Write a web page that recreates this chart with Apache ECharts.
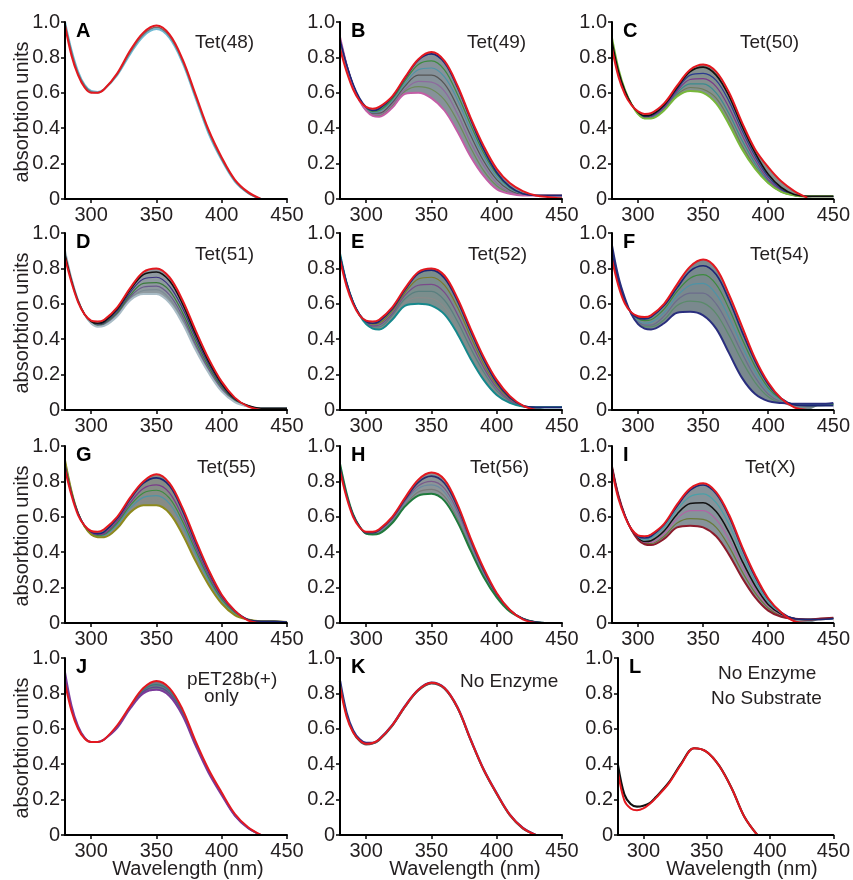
<!DOCTYPE html>
<html>
<head>
<meta charset="utf-8">
<script src="https://cdn.jsdelivr.net/npm/echarts@6/dist/echarts.min.js"></script>
<style>
  html, body { margin: 0; background: #fff; }
  #container { width: 853px; height: 880px; }
</style>
</head>
<body>
<div id="container"></div>
<script>
// wavelengths (nm) shared by every spectrum
const wl = [280, 285, 290, 295, 300, 305, 310, 320, 330, 340, 350, 360, 370, 380, 390, 400, 410, 420, 430, 440, 450];
const xTicks = [300, 350, 400, 450];
const yTicks = [0, 0.2, 0.4, 0.6, 0.8, 1.0];

// A  Tet(48)
const aBlue = [1.00, 0.84, 0.72, 0.645, 0.61, 0.605, 0.62, 0.70, 0.82, 0.92, 0.96, 0.91, 0.77, 0.57, 0.37, 0.22, 0.10, 0.035, 0, null, null];
const aGray = [0.99, 0.83, 0.71, 0.64, 0.605, 0.60, 0.62, 0.705, 0.83, 0.93, 0.97, 0.92, 0.78, 0.58, 0.38, 0.225, 0.105, 0.035, 0, null, null];
const aRed = [0.98, 0.81, 0.70, 0.63, 0.60, 0.60, 0.62, 0.71, 0.84, 0.94, 0.98, 0.93, 0.79, 0.59, 0.39, 0.235, 0.11, 0.04, 0, null, null];

// B  Tet(49)
const bRed = [0.85, 0.72, 0.62, 0.555, 0.52, 0.51, 0.52, 0.58, 0.69, 0.79, 0.83, 0.78, 0.64, 0.46, 0.30, 0.17, 0.09, 0.045, 0.02, 0.01, 0.003];
const b1 = [0.90, 0.76, 0.65, 0.57, 0.52, 0.50, 0.51, 0.575, 0.685, 0.785, 0.82, 0.77, 0.63, 0.45, 0.28, 0.15, 0.07, 0.03, 0.02, 0.02, 0.02];
const b2 = [0.90, 0.76, 0.645, 0.565, 0.515, 0.495, 0.50, 0.565, 0.67, 0.76, 0.78, 0.73, 0.59, 0.42, 0.26, 0.14, 0.065, 0.03, 0.02, 0.02, 0.02];
const b3 = [0.905, 0.76, 0.645, 0.56, 0.51, 0.49, 0.495, 0.555, 0.655, 0.73, 0.74, 0.69, 0.56, 0.39, 0.24, 0.125, 0.06, 0.03, 0.02, 0.02, 0.02];
const b4 = [0.905, 0.76, 0.645, 0.56, 0.505, 0.485, 0.485, 0.545, 0.64, 0.70, 0.70, 0.65, 0.52, 0.36, 0.215, 0.11, 0.05, 0.025, 0.02, 0.02, 0.02];
const b5 = [0.91, 0.76, 0.64, 0.555, 0.505, 0.48, 0.48, 0.535, 0.62, 0.665, 0.66, 0.61, 0.48, 0.32, 0.19, 0.09, 0.04, 0.025, 0.02, 0.02, 0.02];
const b6 = [0.91, 0.76, 0.64, 0.555, 0.50, 0.475, 0.47, 0.525, 0.61, 0.635, 0.62, 0.56, 0.44, 0.29, 0.16, 0.075, 0.035, 0.02, 0.02, 0.02, 0.02];
const bPink = [0.915, 0.76, 0.64, 0.555, 0.50, 0.47, 0.465, 0.515, 0.595, 0.60, 0.57, 0.50, 0.38, 0.24, 0.13, 0.055, 0.03, 0.02, 0.02, 0.02, 0.02];

// C  Tet(50)
const cRed = [0.85, 0.69, 0.59, 0.53, 0.495, 0.48, 0.485, 0.54, 0.64, 0.73, 0.76, 0.72, 0.60, 0.43, 0.28, 0.18, 0.10, 0.045, 0.008, null, null];
const cBlack = [0.89, 0.72, 0.61, 0.535, 0.49, 0.47, 0.475, 0.53, 0.63, 0.72, 0.745, 0.70, 0.58, 0.41, 0.26, 0.14, 0.065, 0.025, 0.015, 0.015, 0.015];
const c2 = [0.89, 0.72, 0.61, 0.535, 0.49, 0.465, 0.47, 0.525, 0.62, 0.70, 0.71, 0.67, 0.55, 0.385, 0.24, 0.125, 0.055, 0.02, 0.015, 0.015, 0.015];
const c3 = [0.895, 0.725, 0.61, 0.535, 0.485, 0.46, 0.465, 0.515, 0.61, 0.675, 0.68, 0.635, 0.515, 0.36, 0.22, 0.11, 0.05, 0.02, 0.015, 0.015, 0.015];
const c4 = [0.90, 0.725, 0.61, 0.535, 0.485, 0.455, 0.46, 0.51, 0.60, 0.65, 0.65, 0.60, 0.48, 0.33, 0.20, 0.10, 0.045, 0.02, 0.015, 0.015, 0.015];
const c5 = [0.90, 0.73, 0.61, 0.535, 0.48, 0.455, 0.455, 0.505, 0.59, 0.63, 0.62, 0.57, 0.45, 0.30, 0.18, 0.09, 0.04, 0.02, 0.015, 0.015, 0.015];
const cGreen = [0.91, 0.735, 0.615, 0.535, 0.48, 0.455, 0.455, 0.50, 0.58, 0.61, 0.60, 0.54, 0.42, 0.28, 0.17, 0.09, 0.04, 0.02, 0.015, 0.015, 0.015];

// D  Tet(51)
const dRed = [0.86, 0.72, 0.61, 0.54, 0.505, 0.50, 0.51, 0.58, 0.69, 0.78, 0.80, 0.75, 0.62, 0.45, 0.29, 0.16, 0.07, 0.02, 0, null, null];
const dBlack = [0.88, 0.73, 0.615, 0.54, 0.50, 0.49, 0.50, 0.57, 0.68, 0.765, 0.78, 0.73, 0.60, 0.43, 0.275, 0.15, 0.065, 0.025, 0.01, 0.01, 0.01];
const d2 = [0.885, 0.735, 0.62, 0.54, 0.50, 0.485, 0.495, 0.56, 0.665, 0.74, 0.75, 0.70, 0.575, 0.41, 0.26, 0.14, 0.06, 0.025, 0.01, 0.01, 0.01];
const d3 = [0.89, 0.735, 0.62, 0.54, 0.495, 0.48, 0.49, 0.55, 0.65, 0.715, 0.72, 0.675, 0.55, 0.39, 0.245, 0.13, 0.055, 0.02, 0.01, 0.01, 0.01];
const d4 = [0.89, 0.74, 0.62, 0.54, 0.495, 0.475, 0.485, 0.545, 0.64, 0.695, 0.70, 0.65, 0.53, 0.37, 0.23, 0.12, 0.05, 0.02, 0.01, 0.01, 0.01];
const d5 = [0.895, 0.74, 0.62, 0.54, 0.49, 0.475, 0.48, 0.54, 0.63, 0.675, 0.68, 0.63, 0.51, 0.355, 0.22, 0.115, 0.05, 0.02, 0.01, 0.01, 0.01];
const dGray = [0.90, 0.74, 0.62, 0.54, 0.49, 0.47, 0.475, 0.53, 0.62, 0.655, 0.655, 0.605, 0.49, 0.34, 0.21, 0.105, 0.045, 0.02, 0.01, 0.01, 0.01];

// E  Tet(52)
const eRed = [0.85, 0.70, 0.60, 0.535, 0.505, 0.50, 0.51, 0.58, 0.69, 0.78, 0.80, 0.76, 0.63, 0.46, 0.30, 0.17, 0.08, 0.025, 0, null, null];
const e1 = [0.87, 0.72, 0.61, 0.54, 0.50, 0.49, 0.50, 0.57, 0.68, 0.77, 0.79, 0.745, 0.615, 0.445, 0.285, 0.155, 0.07, 0.025, 0.015, 0.015, 0.015];
const e2 = [0.875, 0.72, 0.61, 0.54, 0.50, 0.485, 0.49, 0.56, 0.665, 0.74, 0.75, 0.705, 0.58, 0.415, 0.26, 0.14, 0.065, 0.025, 0.015, 0.015, 0.015];
const e3 = [0.875, 0.72, 0.61, 0.535, 0.495, 0.475, 0.48, 0.545, 0.65, 0.705, 0.71, 0.665, 0.54, 0.385, 0.24, 0.125, 0.055, 0.02, 0.015, 0.015, 0.015];
const e4 = [0.88, 0.72, 0.61, 0.535, 0.49, 0.47, 0.47, 0.535, 0.63, 0.67, 0.67, 0.62, 0.50, 0.35, 0.215, 0.11, 0.05, 0.02, 0.015, 0.015, 0.015];
const e5 = [0.88, 0.72, 0.61, 0.535, 0.49, 0.465, 0.465, 0.525, 0.61, 0.635, 0.63, 0.58, 0.46, 0.32, 0.19, 0.095, 0.045, 0.02, 0.015, 0.015, 0.015];
const eTeal = [0.885, 0.72, 0.61, 0.535, 0.485, 0.46, 0.455, 0.51, 0.59, 0.60, 0.59, 0.54, 0.43, 0.29, 0.17, 0.085, 0.04, 0.02, 0.015, 0.015, 0.015];

// F  Tet(54)
const fRed = [0.85, 0.70, 0.60, 0.55, 0.53, 0.525, 0.535, 0.60, 0.71, 0.81, 0.85, 0.80, 0.65, 0.47, 0.29, 0.155, 0.065, 0.015, 0, null, null];
const f1 = [0.88, 0.72, 0.61, 0.55, 0.52, 0.515, 0.525, 0.59, 0.69, 0.785, 0.815, 0.765, 0.62, 0.44, 0.275, 0.145, 0.065, 0.03, 0.025, 0.025, 0.025];
const f2 = [0.89, 0.73, 0.615, 0.55, 0.515, 0.505, 0.51, 0.57, 0.67, 0.745, 0.765, 0.71, 0.57, 0.40, 0.245, 0.125, 0.06, 0.03, 0.025, 0.025, 0.03];
const f3 = [0.90, 0.735, 0.62, 0.545, 0.505, 0.49, 0.495, 0.55, 0.645, 0.705, 0.715, 0.655, 0.52, 0.36, 0.215, 0.11, 0.055, 0.03, 0.03, 0.03, 0.03];
const f4 = [0.905, 0.74, 0.62, 0.545, 0.50, 0.48, 0.48, 0.53, 0.62, 0.66, 0.66, 0.60, 0.47, 0.32, 0.185, 0.09, 0.045, 0.035, 0.03, 0.03, 0.035];
const f5 = [0.915, 0.745, 0.625, 0.54, 0.49, 0.47, 0.47, 0.51, 0.59, 0.615, 0.605, 0.545, 0.42, 0.275, 0.155, 0.075, 0.04, 0.035, 0.03, 0.035, 0.035];
const fNavy = [0.93, 0.75, 0.63, 0.54, 0.485, 0.46, 0.455, 0.49, 0.55, 0.555, 0.535, 0.46, 0.32, 0.18, 0.09, 0.05, 0.04, 0.035, 0.035, 0.035, 0.04];

// G  Tet(55)
const gRed = [0.87, 0.72, 0.61, 0.55, 0.52, 0.515, 0.53, 0.60, 0.71, 0.80, 0.84, 0.79, 0.65, 0.47, 0.30, 0.16, 0.07, 0.015, 0, null, null];
const g1 = [0.89, 0.73, 0.62, 0.55, 0.515, 0.505, 0.515, 0.59, 0.70, 0.79, 0.82, 0.775, 0.635, 0.455, 0.29, 0.155, 0.07, 0.02, 0.01, 0.01, 0.005];
const g2 = [0.90, 0.735, 0.62, 0.55, 0.51, 0.50, 0.505, 0.575, 0.68, 0.76, 0.78, 0.735, 0.60, 0.43, 0.27, 0.145, 0.065, 0.02, 0.01, 0.01, 0.005];
const g3 = [0.905, 0.74, 0.62, 0.545, 0.505, 0.495, 0.50, 0.565, 0.665, 0.735, 0.75, 0.705, 0.575, 0.41, 0.255, 0.135, 0.06, 0.02, 0.01, 0.01, 0.005];
const g4 = [0.91, 0.74, 0.62, 0.545, 0.50, 0.49, 0.495, 0.555, 0.65, 0.71, 0.72, 0.675, 0.55, 0.39, 0.24, 0.125, 0.055, 0.02, 0.01, 0.01, 0.005];
const g5 = [0.915, 0.745, 0.62, 0.545, 0.50, 0.485, 0.49, 0.545, 0.64, 0.69, 0.695, 0.65, 0.525, 0.37, 0.23, 0.12, 0.05, 0.02, 0.01, 0.01, 0.005];
const gOlive = [0.92, 0.745, 0.62, 0.545, 0.50, 0.485, 0.485, 0.535, 0.625, 0.665, 0.665, 0.62, 0.50, 0.35, 0.215, 0.11, 0.045, 0.02, 0.01, 0.01, 0.005];

// H  Tet(56)
const hRed = [0.86, 0.71, 0.60, 0.54, 0.515, 0.515, 0.53, 0.60, 0.71, 0.81, 0.85, 0.81, 0.67, 0.48, 0.31, 0.17, 0.075, 0.02, 0, null, null];
const h1 = [0.88, 0.72, 0.61, 0.545, 0.51, 0.51, 0.525, 0.595, 0.70, 0.795, 0.83, 0.79, 0.655, 0.47, 0.30, 0.165, 0.075, 0.025, 0.005, 0, null];
const h2 = [0.885, 0.725, 0.61, 0.545, 0.51, 0.505, 0.52, 0.585, 0.69, 0.775, 0.80, 0.76, 0.63, 0.455, 0.29, 0.16, 0.075, 0.025, 0.005, 0, null];
const h3 = [0.89, 0.73, 0.615, 0.545, 0.505, 0.505, 0.515, 0.58, 0.68, 0.76, 0.78, 0.74, 0.61, 0.44, 0.28, 0.155, 0.07, 0.025, 0.005, 0, null];
const h4 = [0.895, 0.73, 0.615, 0.545, 0.505, 0.50, 0.51, 0.575, 0.67, 0.74, 0.755, 0.715, 0.59, 0.425, 0.27, 0.15, 0.07, 0.025, 0.005, 0, null];
const hGreen = [0.90, 0.735, 0.615, 0.545, 0.505, 0.50, 0.505, 0.565, 0.66, 0.72, 0.73, 0.69, 0.57, 0.41, 0.26, 0.145, 0.065, 0.025, 0.005, 0, null];

// I  Tet(X)
const iRed = [0.86, 0.70, 0.60, 0.53, 0.495, 0.49, 0.50, 0.56, 0.67, 0.76, 0.79, 0.74, 0.61, 0.43, 0.27, 0.14, 0.06, 0.01, 0, null, null];
const i1 = [0.87, 0.71, 0.605, 0.53, 0.49, 0.48, 0.49, 0.555, 0.66, 0.75, 0.78, 0.73, 0.60, 0.42, 0.26, 0.135, 0.06, 0.025, 0.02, 0.02, 0.025];
const i2 = [0.875, 0.71, 0.605, 0.53, 0.485, 0.47, 0.48, 0.54, 0.64, 0.715, 0.73, 0.68, 0.555, 0.385, 0.235, 0.12, 0.055, 0.025, 0.02, 0.02, 0.025];
const i3 = [0.88, 0.715, 0.605, 0.525, 0.48, 0.46, 0.465, 0.52, 0.615, 0.675, 0.68, 0.63, 0.51, 0.35, 0.21, 0.105, 0.05, 0.025, 0.02, 0.02, 0.025];
const i4 = [0.88, 0.715, 0.605, 0.525, 0.475, 0.455, 0.455, 0.505, 0.59, 0.635, 0.635, 0.585, 0.47, 0.32, 0.19, 0.095, 0.045, 0.025, 0.02, 0.02, 0.025];
const i5 = [0.885, 0.72, 0.605, 0.525, 0.475, 0.45, 0.45, 0.49, 0.565, 0.59, 0.585, 0.54, 0.43, 0.29, 0.17, 0.085, 0.04, 0.025, 0.02, 0.025, 0.03];
const iDark = [0.885, 0.72, 0.605, 0.525, 0.47, 0.445, 0.44, 0.475, 0.54, 0.55, 0.54, 0.49, 0.385, 0.255, 0.145, 0.07, 0.035, 0.025, 0.02, 0.025, 0.03];

// J  pET28b(+) only
const jRed = [0.86, 0.70, 0.60, 0.545, 0.525, 0.525, 0.54, 0.62, 0.73, 0.83, 0.87, 0.83, 0.71, 0.53, 0.37, 0.24, 0.12, 0.045, 0, null, null];
const j1 = [0.88, 0.71, 0.605, 0.545, 0.525, 0.525, 0.54, 0.615, 0.725, 0.82, 0.85, 0.815, 0.70, 0.52, 0.36, 0.235, 0.115, 0.04, 0, null, null];
const j2 = [0.90, 0.72, 0.61, 0.55, 0.525, 0.525, 0.54, 0.61, 0.72, 0.81, 0.835, 0.80, 0.69, 0.515, 0.355, 0.23, 0.11, 0.04, 0, null, null];
const jPurple = [0.92, 0.73, 0.615, 0.55, 0.525, 0.525, 0.54, 0.605, 0.715, 0.80, 0.82, 0.785, 0.675, 0.505, 0.35, 0.225, 0.11, 0.04, 0, null, null];

// K  No Enzyme
const kNavy = [0.87, 0.69, 0.59, 0.54, 0.52, 0.52, 0.54, 0.62, 0.73, 0.82, 0.86, 0.83, 0.72, 0.54, 0.37, 0.235, 0.115, 0.04, 0, null, null];
const kGray = [0.86, 0.68, 0.58, 0.53, 0.51, 0.515, 0.535, 0.615, 0.725, 0.815, 0.855, 0.825, 0.715, 0.535, 0.365, 0.23, 0.11, 0.035, 0, null, null];
const kRed = [0.84, 0.67, 0.58, 0.535, 0.515, 0.52, 0.54, 0.62, 0.73, 0.82, 0.86, 0.83, 0.72, 0.54, 0.37, 0.235, 0.115, 0.04, 0, null, null];

// L  No Enzyme, No Substrate
const lBlack = [0.395, 0.23, 0.175, 0.16, 0.165, 0.18, 0.215, 0.295, 0.405, 0.49, 0.47, 0.39, 0.26, 0.10, 0, null, null, null, null, null, null];
const lRed = [0.355, 0.195, 0.15, 0.14, 0.15, 0.175, 0.21, 0.29, 0.40, 0.49, 0.47, 0.39, 0.26, 0.10, 0, null, null, null, null, null, null];

const RED = '#e3181f';
const FONT = '"Liberation Sans", Arial, sans-serif';
const TXT = '#231f20';

const colLeft = [65, 340, 612];
const rowTop = [22, 233, 446, 658];
const W = 222, H = 177;

const panels = [
  { letter: 'A', col: 0, row: 0, band: null, texts: [['Tet(48)', 130, 11]],
    lines: [[aBlue, '#6db9d3', 2], [aGray, '#6f6f6f', 1.5], [aRed, RED, 2]] },
  { letter: 'B', col: 1, row: 0, band: '#86929a', texts: [['Tet(49)', 127, 11]],
    lines: [[b6, '#6c8a5a', 1.2], [b5, '#8e6a9e', 1.2], [b4, '#555555', 1.2], [b3, '#4e93a6', 1.2], [b2, '#3d8a3f', 1.2], [bPink, '#c25ea6', 2], [b1, '#1c2675', 1.6], [bRed, RED, 2]] },
  { letter: 'C', col: 2, row: 0, band: '#84918f', texts: [['Tet(50)', 128, 11]],
    lines: [[c5, '#6d7b5a', 1.2], [c4, '#3b8b8f', 1.2], [c3, '#7a3a8a', 1.2], [c2, '#2b3a8f', 1.2], [cGreen, '#78b83a', 2], [cBlack, '#111111', 1.6], [cRed, RED, 2]] },
  { letter: 'D', col: 0, row: 1, band: '#8f9aa0', texts: [['Tet(51)', 130, 12]],
    lines: [[d5, '#7d8d95', 1.2], [d4, '#6a5a8a', 1.2], [d3, '#3b7a3b', 1.2], [d2, '#3a2f7f', 1.2], [dGray, '#a9bcc6', 2], [dBlack, '#111111', 1.6], [dRed, RED, 2]] },
  { letter: 'E', col: 1, row: 1, band: '#7b8e8d', texts: [['Tet(52)', 128, 12]],
    lines: [[e5, '#8a8a8a', 1.2], [e4, '#5a7f7f', 1.2], [e3, '#7a4a8a', 1.2], [e2, '#7b7a2a', 1.2], [eTeal, '#16888c', 2], [e1, '#1c2675', 1.6], [eRed, RED, 2]] },
  { letter: 'F', col: 2, row: 1, band: '#7a898e', texts: [['Tet(54)', 138, 12]],
    lines: [[f5, '#5a8a6a', 1.2], [f4, '#6c6c8c', 1.2], [f3, '#4e93a6', 1.2], [f2, '#3d8a3f', 1.2], [fNavy, '#2a2e7e', 2], [f1, '#1c2675', 1.6], [fRed, RED, 2]] },
  { letter: 'G', col: 0, row: 2, band: '#868c86', texts: [['Tet(55)', 132, 12]],
    lines: [[g5, '#8a8a8a', 1.2], [g4, '#4e93a6', 1.2], [g3, '#3d8a3f', 1.2], [g2, '#7a3a8a', 1.2], [gOlive, '#8e8a1c', 2], [g1, '#1c2675', 1.6], [gRed, RED, 2]] },
  { letter: 'H', col: 1, row: 2, band: '#8c9498', texts: [['Tet(56)', 130, 12]],
    lines: [[h4, '#7a7a7a', 1.2], [h3, '#6c8aa0', 1.2], [h2, '#7a5a8a', 1.2], [hGreen, '#1f7a3c', 2], [h1, '#2a2e6e', 1.6], [hRed, RED, 2]] },
  { letter: 'I', col: 2, row: 2, band: '#86939a', texts: [['Tet(X)', 133, 12]],
    lines: [[i5, '#6a7a3a', 1.2], [i4, '#b064a4', 1.2], [i3, '#111111', 1.5], [i2, '#4aa0a8', 1.2], [iDark, '#8c1c2c', 2], [i1, '#1c2675', 1.6], [iRed, RED, 2]] },
  { letter: 'J', col: 0, row: 3, band: '#6e7a86', texts: [['pET28b(+)', 122, 12], ['only', 139, 29]],
    lines: [[j2, '#5a4a8a', 1.3], [j1, '#3b7a7a', 1.3], [jPurple, '#7a3a9a', 2], [jRed, RED, 2]] },
  { letter: 'K', col: 1, row: 3, band: null, texts: [['No Enzyme', 120, 14]],
    lines: [[kNavy, '#2a2e8a', 2.4], [kGray, '#555555', 1.6], [kRed, RED, 2]] },
  { letter: 'L', col: 2, row: 3, band: null, dx: 6, texts: [['No Enzyme', 100, 6], ['No Substrate', 93, 31]],
    lines: [[lBlack, '#111111', 2.2], [lRed, RED, 2]] }
];

const grids = [], xAxes = [], yAxes = [], series = [], graphics = [];
const SMOOTH = 0.35;

function extreme(curves, i, fn) {
  const vals = curves.map(c => c[i]).filter(v => v != null);
  return vals.length ? fn(...vals) : null;
}

panels.forEach((p, k) => {
  const left = colLeft[p.col] + (p.dx || 0);
  const top = rowTop[p.row];
  grids.push({ left: left, top: top, width: W, height: H });
  xAxes.push({
    type: 'value', gridIndex: k, min: 280, max: 450, z: 10,
    axisLine: { show: true, onZero: false, lineStyle: { color: '#000', width: 2 } },
    axisTick: { show: true, customValues: xTicks, length: 4, lineStyle: { color: '#000', width: 1.5 } },
    axisLabel: { customValues: xTicks, fontSize: 20, color: TXT, fontFamily: FONT, margin: 6 },
    splitLine: { show: false }
  });
  yAxes.push({
    type: 'value', gridIndex: k, min: 0, max: 1, interval: 0.2, z: 10,
    axisLine: { show: true, lineStyle: { color: '#000', width: 2 } },
    axisTick: { show: true, length: 4, lineStyle: { color: '#000', width: 1.5 } },
    axisLabel: {
      customValues: yTicks, fontSize: 20, color: TXT, fontFamily: FONT, margin: 5,
      formatter: v => (v === 0 ? '0' : v.toFixed(1))
    },
    splitLine: { show: false }
  });

  const curves = p.lines.map(l => l[0]);
  if (p.band) {
    // band between the lowest and highest spectrum: fill under the top edge, then white under the bottom edge
    const lo = wl.map((_, i) => extreme(curves, i, Math.min));
    const hi = wl.map((_, i) => extreme(curves, i, Math.max));
    const common = { type: 'line', xAxisIndex: k, yAxisIndex: k, symbol: 'none', smooth: SMOOTH, silent: true, lineStyle: { width: 0 } };
    series.push(Object.assign({}, common, { z: 1, data: wl.map((x, i) => [x, hi[i]]), areaStyle: { color: p.band, opacity: 1 } }));
    series.push(Object.assign({}, common, { z: 1.5, data: wl.map((x, i) => [x, lo[i]]), areaStyle: { color: '#ffffff', opacity: 1 } }));
  }
  p.lines.forEach(([c, color, width]) => {
    series.push({
      type: 'line', xAxisIndex: k, yAxisIndex: k, symbol: 'none', smooth: SMOOTH, z: 2,
      data: wl.map((x, i) => [x, c[i]]),
      lineStyle: { color: color, width: width }
    });
  });

  graphics.push({
    type: 'text', x: left + 11, y: top - 1,
    style: { text: p.letter, font: 'bold 20px ' + FONT, fill: '#000', verticalAlign: 'top' }
  });
  p.texts.forEach(([t, dx, dy]) => {
    graphics.push({
      type: 'text', x: left + dx, y: top + dy,
      style: { text: t, font: '19px ' + FONT, fill: TXT, verticalAlign: 'top' }
    });
  });
});

// y axis names on the left column
rowTop.forEach(t => {
  graphics.push({
    type: 'text', x: 22, y: t + 90, rotation: Math.PI / 2,
    style: { text: 'absorbtion units', font: '20px ' + FONT, fill: TXT, align: 'center', verticalAlign: 'middle' }
  });
});
// x axis names under the bottom row
[188, 465, 742].forEach(cx => {
  graphics.push({
    type: 'text', x: cx, y: 869,
    style: { text: 'Wavelength (nm)', font: '20px ' + FONT, fill: TXT, align: 'center', verticalAlign: 'middle' }
  });
});

let dom = document.getElementById('container');
let myChart = echarts.init(dom, null, { renderer: 'canvas' });
myChart.setOption({
  animation: false,
  grid: grids,
  xAxis: xAxes,
  yAxis: yAxes,
  series: series,
  graphic: graphics
});
window.addEventListener('resize', myChart.resize);
</script>
</body>
</html>
